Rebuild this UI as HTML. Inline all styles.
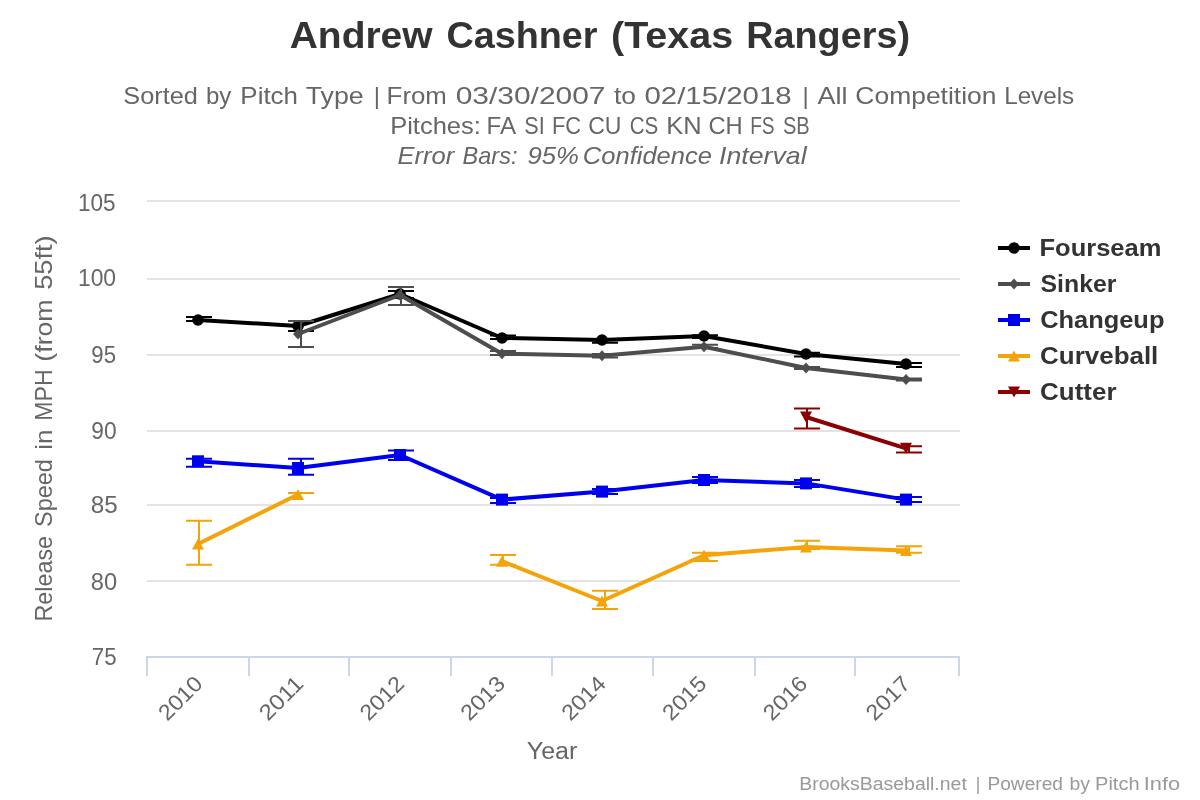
<!DOCTYPE html><html><head><meta charset="utf-8"><title>Andrew Cashner (Texas Rangers)</title>
<style>html,body{margin:0;padding:0;background:#fff;overflow:hidden}svg{display:block;will-change:transform}text{font-family:"Liberation Sans",sans-serif}</style></head><body>
<svg width="1200" height="800" viewBox="0 0 1200 800">
<rect x="0" y="0" width="1200" height="800" fill="#fff"/>
<rect x="147" y="200" width="813" height="2" fill="#e3e3e3"/>
<rect x="147" y="278" width="813" height="2" fill="#e3e3e3"/>
<rect x="147" y="354" width="813" height="2" fill="#e3e3e3"/>
<rect x="147" y="430" width="813" height="2" fill="#e3e3e3"/>
<rect x="147" y="504" width="813" height="2" fill="#e3e3e3"/>
<rect x="147" y="580" width="813" height="2" fill="#e3e3e3"/>
<rect x="146" y="656" width="814" height="2" fill="#ccd6eb"/>
<rect x="146" y="656" width="2" height="20" fill="#ccd6eb"/>
<rect x="248" y="656" width="2" height="20" fill="#ccd6eb"/>
<rect x="348" y="656" width="2" height="20" fill="#ccd6eb"/>
<rect x="450" y="656" width="2" height="20" fill="#ccd6eb"/>
<rect x="551" y="656" width="2" height="20" fill="#ccd6eb"/>
<rect x="652" y="656" width="2" height="20" fill="#ccd6eb"/>
<rect x="754" y="656" width="2" height="20" fill="#ccd6eb"/>
<rect x="854" y="656" width="2" height="20" fill="#ccd6eb"/>
<rect x="958" y="656" width="2" height="20" fill="#ccd6eb"/>
<text x="289.73" y="48" font-size="37" fill="#333333" font-weight="bold" textLength="142.89" lengthAdjust="spacingAndGlyphs">Andrew</text>
<text x="446.45" y="48" font-size="37" fill="#333333" font-weight="bold" textLength="151.12" lengthAdjust="spacingAndGlyphs">Cashner</text>
<text x="611.04" y="48" font-size="37" fill="#333333" font-weight="bold" textLength="122.08" lengthAdjust="spacingAndGlyphs">(Texas</text>
<text x="746.27" y="48" font-size="37" fill="#333333" font-weight="bold" textLength="163.71" lengthAdjust="spacingAndGlyphs">Rangers)</text>
<text x="123.35" y="104" font-size="24" fill="#666666" textLength="74.53" lengthAdjust="spacingAndGlyphs">Sorted</text>
<text x="205.95" y="104" font-size="24" fill="#666666" textLength="25.34" lengthAdjust="spacingAndGlyphs">by</text>
<text x="240.38" y="104" font-size="24" fill="#666666" textLength="57.55" lengthAdjust="spacingAndGlyphs">Pitch</text>
<text x="305.65" y="104" font-size="24" fill="#666666" textLength="58.04" lengthAdjust="spacingAndGlyphs">Type</text>
<text x="373.76" y="104" font-size="24" fill="#666666" textLength="6.23" lengthAdjust="spacingAndGlyphs">|</text>
<text x="386.63" y="104" font-size="24" fill="#666666" textLength="60.27" lengthAdjust="spacingAndGlyphs">From</text>
<text x="455.73" y="104" font-size="24" fill="#666666" textLength="149.77" lengthAdjust="spacingAndGlyphs">03/30/2007</text>
<text x="613.9" y="104" font-size="24" fill="#666666" textLength="21.9" lengthAdjust="spacingAndGlyphs">to</text>
<text x="644.45" y="104" font-size="24" fill="#666666" textLength="147.23" lengthAdjust="spacingAndGlyphs">02/15/2018</text>
<text x="802.38" y="104" font-size="24" fill="#666666" textLength="6.23" lengthAdjust="spacingAndGlyphs">|</text>
<text x="817.45" y="104" font-size="24" fill="#666666" textLength="29.96" lengthAdjust="spacingAndGlyphs">All</text>
<text x="855.36" y="104" font-size="24" fill="#666666" textLength="141.06" lengthAdjust="spacingAndGlyphs">Competition</text>
<text x="1004.21" y="104" font-size="24" fill="#666666" textLength="69.96" lengthAdjust="spacingAndGlyphs">Levels</text>
<text x="390.21" y="134" font-size="24" fill="#666666" textLength="90.62" lengthAdjust="spacingAndGlyphs">Pitches:</text>
<text x="486.62" y="134" font-size="24" fill="#666666" textLength="29.53" lengthAdjust="spacingAndGlyphs">FA</text>
<text x="524.27" y="134" font-size="24" fill="#666666" textLength="20.43" lengthAdjust="spacingAndGlyphs">SI</text>
<text x="551.9" y="134" font-size="24" fill="#666666" textLength="29.18" lengthAdjust="spacingAndGlyphs">FC</text>
<text x="588.23" y="134" font-size="24" fill="#666666" textLength="33.3" lengthAdjust="spacingAndGlyphs">CU</text>
<text x="629.71" y="134" font-size="24" fill="#666666" textLength="28.54" lengthAdjust="spacingAndGlyphs">CS</text>
<text x="666.21" y="134" font-size="24" fill="#666666" textLength="35.36" lengthAdjust="spacingAndGlyphs">KN</text>
<text x="708.39" y="134" font-size="24" fill="#666666" textLength="34.29" lengthAdjust="spacingAndGlyphs">CH</text>
<text x="750.18" y="134" font-size="24" fill="#666666" textLength="24.45" lengthAdjust="spacingAndGlyphs">FS</text>
<text x="782.89" y="134" font-size="24" fill="#666666" textLength="26.77" lengthAdjust="spacingAndGlyphs">SB</text>
<text x="397.46" y="164" font-size="24" fill="#666666" font-style="italic" textLength="56.78" lengthAdjust="spacingAndGlyphs">Error</text>
<text x="462.58" y="164" font-size="24" fill="#666666" font-style="italic" textLength="54.86" lengthAdjust="spacingAndGlyphs">Bars:</text>
<text x="527.52" y="164" font-size="24" fill="#666666" font-style="italic" textLength="51.48" lengthAdjust="spacingAndGlyphs">95%</text>
<text x="582.89" y="164" font-size="24" fill="#666666" font-style="italic" textLength="128.95" lengthAdjust="spacingAndGlyphs">Confidence</text>
<text x="719.04" y="164" font-size="24" fill="#666666" font-style="italic" textLength="87.56" lengthAdjust="spacingAndGlyphs">Interval</text>
<text x="799.2" y="790" font-size="17.5" fill="#999999" textLength="167.64" lengthAdjust="spacingAndGlyphs">BrooksBaseball.net</text>
<text x="975.68" y="790" font-size="17.5" fill="#999999" textLength="4.55" lengthAdjust="spacingAndGlyphs">|</text>
<text x="987.43" y="790" font-size="17.5" fill="#999999" textLength="75.5" lengthAdjust="spacingAndGlyphs">Powered</text>
<text x="1069.55" y="790" font-size="17.5" fill="#999999" textLength="20.49" lengthAdjust="spacingAndGlyphs">by</text>
<text x="1095.06" y="790" font-size="17.5" fill="#999999" textLength="44.54" lengthAdjust="spacingAndGlyphs">Pitch</text>
<text x="1143.79" y="790" font-size="17.5" fill="#999999" textLength="36.32" lengthAdjust="spacingAndGlyphs">Info</text>
<text x="77.98" y="210.5" font-size="23" fill="#666666" textLength="37.67" lengthAdjust="spacingAndGlyphs">105</text>
<text x="77.96" y="286.2" font-size="23" fill="#666666" textLength="38.13" lengthAdjust="spacingAndGlyphs">100</text>
<text x="91.36" y="362.75" font-size="23" fill="#666666" textLength="24.67" lengthAdjust="spacingAndGlyphs">95</text>
<text x="91.33" y="438.5" font-size="23" fill="#666666" textLength="25.3" lengthAdjust="spacingAndGlyphs">90</text>
<text x="90.85" y="513" font-size="23" fill="#666666" textLength="26.97" lengthAdjust="spacingAndGlyphs">85</text>
<text x="90.87" y="589.5" font-size="23" fill="#666666" textLength="26.35" lengthAdjust="spacingAndGlyphs">80</text>
<text x="91.86" y="665.1" font-size="23" fill="#666666" textLength="24.78" lengthAdjust="spacingAndGlyphs">75</text>
<text x="526.75" y="758.5" font-size="23.5" fill="#666666" textLength="50.67" lengthAdjust="spacingAndGlyphs">Year</text>
<text x="1039.49" y="256" font-size="23" fill="#333333" font-weight="bold" textLength="121.89" lengthAdjust="spacingAndGlyphs">Fourseam</text>
<text x="1040.48" y="292" font-size="23" fill="#333333" font-weight="bold" textLength="75.99" lengthAdjust="spacingAndGlyphs">Sinker</text>
<text x="1040.16" y="328" font-size="23" fill="#333333" font-weight="bold" textLength="124.29" lengthAdjust="spacingAndGlyphs">Changeup</text>
<text x="1040.14" y="364" font-size="23" fill="#333333" font-weight="bold" textLength="118.2" lengthAdjust="spacingAndGlyphs">Curveball</text>
<text x="1040.14" y="400" font-size="23" fill="#333333" font-weight="bold" textLength="76.36" lengthAdjust="spacingAndGlyphs">Cutter</text>
<g transform="translate(52 0) rotate(-90)">
<text x="-621.61" y="0" font-size="24" fill="#666666" textLength="85.65" lengthAdjust="spacingAndGlyphs">Release</text>
<text x="-526.97" y="0" font-size="24" fill="#666666" textLength="67.88" lengthAdjust="spacingAndGlyphs">Speed</text>
<text x="-449.84" y="0" font-size="24" fill="#666666" textLength="20.28" lengthAdjust="spacingAndGlyphs">in</text>
<text x="-420.64" y="0" font-size="24" fill="#666666" textLength="51.27" lengthAdjust="spacingAndGlyphs">MPH</text>
<text x="-361.65" y="0" font-size="24" fill="#666666" textLength="62.16" lengthAdjust="spacingAndGlyphs">(from</text>
<text x="-289.84" y="0" font-size="24" fill="#666666" textLength="54.53" lengthAdjust="spacingAndGlyphs">55ft)</text>
</g>
<text x="204" y="685" font-size="22" fill="#666666" text-anchor="end" transform="rotate(-45 204 685)" textLength="52" lengthAdjust="spacingAndGlyphs">2010</text>
<text x="304.8" y="685" font-size="22" fill="#666666" text-anchor="end" transform="rotate(-45 304.8 685)" textLength="52" lengthAdjust="spacingAndGlyphs">2011</text>
<text x="405.6" y="685" font-size="22" fill="#666666" text-anchor="end" transform="rotate(-45 405.6 685)" textLength="52" lengthAdjust="spacingAndGlyphs">2012</text>
<text x="506.4" y="685" font-size="22" fill="#666666" text-anchor="end" transform="rotate(-45 506.4 685)" textLength="52" lengthAdjust="spacingAndGlyphs">2013</text>
<text x="607.2" y="685" font-size="22" fill="#666666" text-anchor="end" transform="rotate(-45 607.2 685)" textLength="52" lengthAdjust="spacingAndGlyphs">2014</text>
<text x="708" y="685" font-size="22" fill="#666666" text-anchor="end" transform="rotate(-45 708 685)" textLength="52" lengthAdjust="spacingAndGlyphs">2015</text>
<text x="808.8" y="685" font-size="22" fill="#666666" text-anchor="end" transform="rotate(-45 808.8 685)" textLength="52" lengthAdjust="spacingAndGlyphs">2016</text>
<text x="911.6" y="685" font-size="22" fill="#666666" text-anchor="end" transform="rotate(-45 911.6 685)" textLength="52" lengthAdjust="spacingAndGlyphs">2017</text>
<path d="M198 320L298 326L400 294L502 338L602 340L704 336L806 354L906 364" stroke="#000000" stroke-width="4" fill="none" stroke-linejoin="round" stroke-linecap="round"/>
<circle cx="198" cy="320" r="5.8" fill="#000000"/>
<circle cx="298" cy="326" r="5.8" fill="#000000"/>
<circle cx="400" cy="294" r="5.8" fill="#000000"/>
<circle cx="502" cy="338" r="5.8" fill="#000000"/>
<circle cx="602" cy="340" r="5.8" fill="#000000"/>
<circle cx="704" cy="336" r="5.8" fill="#000000"/>
<circle cx="806" cy="354" r="5.8" fill="#000000"/>
<circle cx="906" cy="364" r="5.8" fill="#000000"/>
<path d="M186 317H212M186 321H212M199 317V321M288 321H314M288 331H314M301 321V331M388 291H414M388 298H414M401 291V298M490 335.5H516M490 339H516M503 335.5V339M592 339H618M592 342.7H618M605 339V342.7M692 335.3H718M692 338H718M705 335.3V338M794 352.7H820M794 356.6H820M807 352.7V356.6M896 362.9H922M896 367H922M909 362.9V367" stroke="#000000" stroke-width="2" fill="none"/>
<path d="M298 334L400 295L502 353.75L602 355.75L704 346.7L806 368L906 379.6" stroke="#4d4d4d" stroke-width="4" fill="none" stroke-linejoin="round" stroke-linecap="round"/>
<path d="M298 328.5L303 334L298 339.5L293 334Z" fill="#4d4d4d"/>
<path d="M400 289.5L405 295L400 300.5L395 295Z" fill="#4d4d4d"/>
<path d="M502 348.25L507 353.75L502 359.25L497 353.75Z" fill="#4d4d4d"/>
<path d="M602 350.25L607 355.75L602 361.25L597 355.75Z" fill="#4d4d4d"/>
<path d="M704 341.2L709 346.7L704 352.2L699 346.7Z" fill="#4d4d4d"/>
<path d="M806 362.5L811 368L806 373.5L801 368Z" fill="#4d4d4d"/>
<path d="M906 374.1L911 379.6L906 385.1L901 379.6Z" fill="#4d4d4d"/>
<path d="M288 321H314M288 347H314M301 321V347M388 287H414M388 305H414M401 287V305M490 351H516M490 355H516M503 351V355M592 354H618M592 357.5H618M605 354V357.5M692 344.7H718M692 348H718M705 344.7V348M794 367H820M794 369H820M807 367V369M896 378.5H922M896 380.5H922M909 378.5V380.5" stroke="#4d4d4d" stroke-width="2" fill="none"/>
<path d="M198 461.3L298 468L400 455L502 499.6L602 491.6L704 480L806 483.4L906 499.6" stroke="#0000f0" stroke-width="4" fill="none" stroke-linejoin="round" stroke-linecap="round"/>
<rect x="192" y="455.3" width="12" height="12" fill="#0000f0"/>
<rect x="292" y="462" width="12" height="12" fill="#0000f0"/>
<rect x="394" y="449" width="12" height="12" fill="#0000f0"/>
<rect x="496" y="493.6" width="12" height="12" fill="#0000f0"/>
<rect x="596" y="485.6" width="12" height="12" fill="#0000f0"/>
<rect x="698" y="474" width="12" height="12" fill="#0000f0"/>
<rect x="800" y="477.4" width="12" height="12" fill="#0000f0"/>
<rect x="900" y="493.6" width="12" height="12" fill="#0000f0"/>
<path d="M186 458.7H212M186 466.7H212M199 458.7V466.7M288 458.7H314M288 474.7H314M301 458.7V474.7M388 450.4H414M388 460H414M401 450.4V460M490 498H516M490 503H516M503 498V503M592 489H618M592 494H618M605 489V494M692 477H718M692 483H718M705 477V483M794 480H820M794 487H820M807 480V487M896 497H922M896 502H922M909 497V502" stroke="#0000f0" stroke-width="2" fill="none"/>
<path d="M198 544L298 494.5M502 561.2L602 601L704 555.2L806 546.9L906 550.6" stroke="#f5a30a" stroke-width="4" fill="none" stroke-linejoin="round" stroke-linecap="round"/>
<path d="M198 538.5L204 549.5L192 549.5Z" fill="#f5a30a"/>
<path d="M298 489L304 500L292 500Z" fill="#f5a30a"/>
<path d="M502 555.7L508 566.7L496 566.7Z" fill="#f5a30a"/>
<path d="M602 595.5L608 606.5L596 606.5Z" fill="#f5a30a"/>
<path d="M704 549.7L710 560.7L698 560.7Z" fill="#f5a30a"/>
<path d="M806 541.4L812 552.4L800 552.4Z" fill="#f5a30a"/>
<path d="M906 545.1L912 556.1L900 556.1Z" fill="#f5a30a"/>
<path d="M186 520.7H212M186 564.7H212M199 520.7V564.7M288 493H314M288 493H314M301 493V493M490 554.9H516M490 564.8H516M503 554.9V564.8M592 590.7H618M592 609H618M605 590.7V609M692 552.8H718M692 561H718M705 552.8V561M794 540.8H820M794 549H820M807 540.8V549M896 546.3H922M896 552.8H922M909 546.3V552.8" stroke="#f5a30a" stroke-width="2" fill="none"/>
<path d="M806 417L906 448.3" stroke="#8b0000" stroke-width="4" fill="none" stroke-linejoin="round" stroke-linecap="round"/>
<path d="M800 411.5L812 411.5L806 422.5Z" fill="#8b0000"/>
<path d="M900 442.8L912 442.8L906 453.8Z" fill="#8b0000"/>
<path d="M794 408.6H820M794 428.6H820M807 408.6V428.6M896 446.3H922M896 452.6H922M909 446.3V452.6" stroke="#8b0000" stroke-width="2" fill="none"/>
<rect x="998" y="246" width="32" height="4" fill="#000000"/>
<circle cx="1014" cy="248" r="5.8" fill="#000000"/>
<rect x="998" y="282" width="32" height="4" fill="#4d4d4d"/>
<path d="M1014 278.5L1019 284L1014 289.5L1009 284Z" fill="#4d4d4d"/>
<rect x="998" y="318" width="32" height="4" fill="#0000f0"/>
<rect x="1008" y="314" width="12" height="12" fill="#0000f0"/>
<rect x="998" y="354" width="32" height="4" fill="#f5a30a"/>
<path d="M1014 350.5L1020 361.5L1008 361.5Z" fill="#f5a30a"/>
<rect x="998" y="390" width="32" height="4" fill="#8b0000"/>
<path d="M1008 386.5L1020 386.5L1014 397.5Z" fill="#8b0000"/>
</svg></body></html>
